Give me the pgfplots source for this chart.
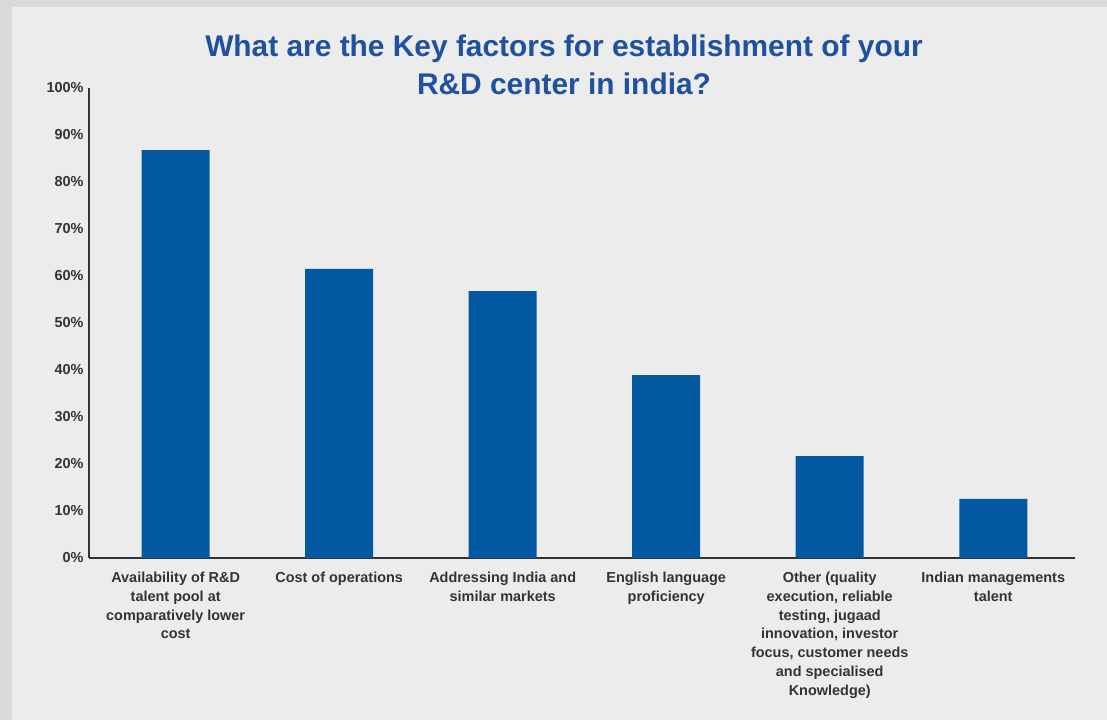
\documentclass[border=0pt]{standalone}
\usepackage{fontspec}
\setmainfont{Liberation Sans}
\usepackage{pgfplots}
\pgfplotsset{compat=1.18}
\definecolor{bgc}{HTML}{EBECEB}
\definecolor{brd}{HTML}{D9D9D9}
\definecolor{barc}{HTML}{0259A1}
\definecolor{titc}{HTML}{1F51A0}
\definecolor{txt}{HTML}{333333}
\begin{document}
\begin{tikzpicture}[x=1bp,y=1bp]
\fill[brd] (0,0) rectangle (1107,720);
\fill[bgc] (12,0) rectangle (1107,713);
\node[anchor=base, font=\fontsize{30}{37}\selectfont\bfseries, text=titc, inner sep=0] at (564,663) {What are the Key factors for establishment of your};
\node[anchor=base, font=\fontsize{30}{37}\selectfont\bfseries, text=titc, inner sep=0] at (564,625) {R\&D center in india?};
\begin{axis}[
  at={(89bp,162bp)}, anchor=south west,
  scale only axis, width=986bp, height=470bp,
  xmin=-0.53, xmax=5.5, ymin=0, ymax=100,
  enlargelimits=false,
  axis x line=bottom, axis y line=left,
  axis line style={-, draw=txt, line width=1.3bp},
  major tick length=0,
  ytick={0,10,...,100},
  yticklabel={\pgfmathprintnumber{\tick}\%},
  /pgf/number format/assume math mode=true,
  yticklabel style={font=\fontsize{14.5}{19.3}\selectfont\bfseries, text=txt, xshift=-2bp},
  xtick={0,...,5},
  xticklabels={
    {Availability of R\&D\\talent pool at\\comparatively lower\\cost},
    {Cost of operations},
    {Addressing India and\\similar markets},
    {English language\\proficiency},
    {Other (quality\\execution, reliable\\testing, jugaad\\innovation, investor\\focus, customer needs\\and specialised\\Knowledge)},
    {Indian managements\\talent}},
  xticklabel style={align=center, font=\fontsize{14.5}{18.8}\selectfont\bfseries, text=txt, inner sep=0, yshift=-14bp},
  ybar, bar width=68bp,
]
\addplot[fill=barc, draw=none] coordinates {(0,86.8) (1,61.5) (2,56.8) (3,38.9) (4,21.7) (5,12.6)};
\end{axis}
\end{tikzpicture}
\end{document}
